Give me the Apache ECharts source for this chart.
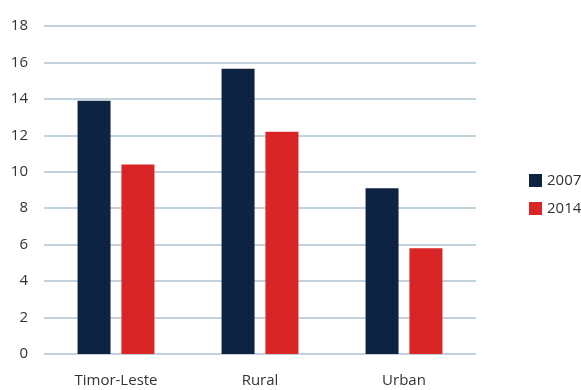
<!DOCTYPE html>
<html><head><meta charset="utf-8">
<script src="https://cdn.jsdelivr.net/npm/echarts@6/dist/echarts.min.js"></script>
<style>html,body{margin:0;padding:0;background:#fff}#c{width:581px;height:390px}</style>
</head><body><div id="c"></div>
<script>
const categories = ["Timor-Leste", "Rural", "Urban"];
const series2007 = [13.9, 15.65, 9.1];
const series2014 = [10.4, 12.2, 5.8];
const seriesNames = ["2007", "2014"];
const chart = echarts.init(document.getElementById('c'));
const font = "'Open Sans', 'Noto Sans', sans-serif";
chart.setOption({
  animation: false,
  textStyle: {fontFamily: font},
  grid: {left: 44, right: 105, top: 26, bottom: 36},
  legend: {
    orient: 'vertical', left: 524, top: 168,
    itemWidth: 13, itemHeight: 13, itemGap: 13,
    icon: 'rect',
    textStyle: {fontFamily: font, fontSize: 15, color: '#333'},
    data: seriesNames
  },
  xAxis: {
    type: 'category', data: categories,
    axisLine: {show: false}, axisTick: {show: false},
    axisLabel: {fontFamily: font, fontSize: 15, color: '#333', margin: 19}
  },
  yAxis: {
    type: 'value', min: 0, max: 18, interval: 2,
    axisLine: {show: false}, axisTick: {show: false},
    axisLabel: {fontFamily: font, fontSize: 15, color: '#333', margin: 16},
    splitLine: {lineStyle: {color: '#c3d3de', width: 2}}
  },
  series: [
    {name: seriesNames[0], type: 'bar', data: series2007, barWidth: 33, barGap: '33%', itemStyle: {color: '#0e2242'}},
    {name: seriesNames[1], type: 'bar', data: series2014, barWidth: 33, itemStyle: {color: '#da2527'}}
  ]
});
</script></body></html>
